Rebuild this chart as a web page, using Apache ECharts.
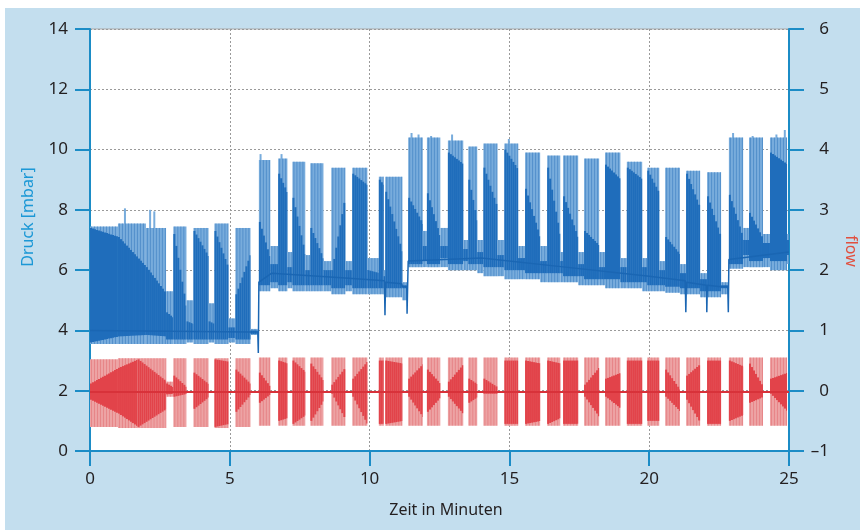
<!DOCTYPE html>
<html>
<head>
<meta charset="utf-8">
<script src="https://cdn.jsdelivr.net/npm/echarts@6/dist/echarts.min.js"></script>
<style>
  html, body { margin: 0; padding: 0; background: #ffffff; }
  #frame { position: absolute; left: 5px; top: 8px; width: 855px; height: 522px; background: #c3deee; }
  #chart { position: absolute; left: 0; top: 0; width: 860px; height: 530px; }
</style>
</head>
<body>
<div id="frame"></div>
<div id="chart"></div>
<script>
// ---- axis ticks ----
const xTicks = [0, 5, 10, 15, 20, 25];
const pressureTicks = [0, 2, 4, 6, 8, 10, 12, 14];
const flowTicks = [-1, 0, 1, 2, 3, 4, 5, 6];

// ---- pressure (mbar): [t0, t1, lightLow, lightHigh, darkLow0, darkHigh0, darkLow1, darkHigh1] ----
const pressureSegments = [
  [0.00, 1.00, 3.55, 7.45, 3.60, 7.40, 3.80, 7.10],
  [1.00, 2.00, 3.55, 7.55, 3.80, 7.10, 3.85, 6.10],
  [2.00, 2.72, 3.55, 7.40, 3.85, 6.10, 3.80, 5.20],
  [2.72, 2.98, 3.55, 5.30, 3.70, 4.60, 3.70, 4.40],
  [2.98, 3.45, 3.55, 7.45, 3.70, 7.20, 3.70, 4.60],
  [3.45, 3.70, 3.60, 5.00, 3.70, 4.30, 3.70, 4.20],
  [3.70, 4.24, 3.55, 7.40, 3.70, 7.30, 3.70, 6.40],
  [4.24, 4.45, 3.60, 4.90, 3.70, 4.30, 3.70, 4.20],
  [4.45, 4.95, 3.55, 7.55, 3.70, 7.30, 3.70, 6.00],
  [4.95, 5.20, 3.60, 4.40, 3.75, 4.10, 3.75, 4.10],
  [5.20, 5.74, 3.55, 7.40, 3.70, 5.20, 3.70, 6.60],
  [5.74, 6.00, 3.85, 4.05, 3.88, 4.00, 3.88, 4.00],
  [6.04, 6.45, 5.30, 9.65, 5.50, 7.60, 5.50, 6.30],
  [6.45, 6.73, 5.40, 6.80, 5.60, 6.20, 5.60, 6.20],
  [6.73, 7.06, 5.30, 9.70, 5.50, 9.20, 5.50, 8.50],
  [7.06, 7.24, 5.40, 6.60, 5.60, 6.10, 5.60, 6.10],
  [7.24, 7.70, 5.30, 9.60, 5.50, 8.40, 5.50, 6.40],
  [7.70, 7.88, 5.30, 6.50, 5.50, 6.00, 5.50, 6.00],
  [7.88, 8.35, 5.30, 9.55, 5.50, 7.40, 5.50, 6.30],
  [8.35, 8.63, 5.30, 6.30, 5.50, 6.00, 5.50, 6.00],
  [8.63, 9.13, 5.20, 9.40, 5.40, 6.00, 5.40, 8.60],
  [9.13, 9.38, 5.30, 6.30, 5.50, 6.00, 5.50, 6.00],
  [9.38, 9.92, 5.20, 9.40, 5.40, 9.20, 5.40, 8.80],
  [9.92, 10.33, 5.20, 6.40, 5.40, 6.00, 5.40, 5.90],
  [10.33, 10.50, 5.20, 9.10, 5.40, 9.00, 5.40, 8.80],
  [10.50, 10.56, 5.20, 6.00, 5.40, 5.80, 5.40, 5.80],
  [10.56, 11.17, 5.10, 9.10, 5.40, 8.60, 5.40, 6.50],
  [11.17, 11.36, 5.00, 5.60, 5.40, 5.50, 5.40, 5.50],
  [11.38, 11.90, 6.10, 10.40, 6.20, 8.40, 6.20, 7.50],
  [11.90, 12.05, 6.10, 7.30, 6.30, 6.80, 6.30, 6.80],
  [12.05, 12.53, 6.10, 10.40, 6.20, 8.55, 6.20, 7.00],
  [12.53, 12.80, 6.10, 7.40, 6.40, 6.80, 6.40, 6.80],
  [12.80, 13.35, 6.00, 10.30, 6.20, 9.90, 6.20, 9.50],
  [13.35, 13.53, 6.00, 7.00, 6.30, 6.70, 6.30, 6.70],
  [13.53, 13.85, 6.00, 10.10, 6.20, 9.00, 6.20, 7.50],
  [13.85, 14.07, 5.90, 7.00, 6.20, 6.60, 6.20, 6.60],
  [14.07, 14.57, 5.80, 10.20, 6.10, 9.40, 6.10, 8.00],
  [14.57, 14.82, 5.80, 7.00, 6.10, 6.50, 6.10, 6.50],
  [14.82, 15.31, 5.70, 10.20, 6.00, 10.00, 6.00, 9.30],
  [15.31, 15.56, 5.70, 6.80, 6.00, 6.40, 6.00, 6.40],
  [15.56, 16.10, 5.70, 9.90, 5.90, 8.70, 5.90, 7.00],
  [16.10, 16.35, 5.60, 6.80, 5.90, 6.30, 5.90, 6.30],
  [16.35, 16.82, 5.60, 9.80, 5.90, 9.40, 5.90, 7.00],
  [16.82, 16.92, 5.60, 6.60, 5.90, 6.30, 5.90, 6.30],
  [16.92, 17.46, 5.60, 9.80, 5.80, 8.45, 5.80, 7.00],
  [17.46, 17.67, 5.50, 6.60, 5.80, 6.20, 5.80, 6.20],
  [17.67, 18.21, 5.50, 9.70, 5.70, 7.30, 5.70, 6.80],
  [18.21, 18.42, 5.50, 6.60, 5.70, 6.10, 5.70, 6.10],
  [18.42, 18.97, 5.40, 9.90, 5.70, 9.50, 5.70, 9.00],
  [18.97, 19.20, 5.40, 6.40, 5.60, 6.10, 5.60, 6.10],
  [19.20, 19.75, 5.40, 9.60, 5.60, 9.40, 5.60, 9.00],
  [19.75, 19.93, 5.30, 6.40, 5.60, 6.10, 5.60, 6.10],
  [19.93, 20.36, 5.30, 9.40, 5.50, 9.30, 5.50, 8.50],
  [20.36, 20.57, 5.30, 6.30, 5.50, 6.00, 5.50, 6.00],
  [20.57, 21.10, 5.25, 9.40, 5.45, 7.10, 5.45, 6.50],
  [21.10, 21.32, 5.20, 6.20, 5.40, 5.90, 5.40, 5.90],
  [21.32, 21.82, 5.20, 9.30, 5.40, 9.20, 5.40, 8.00],
  [21.82, 22.07, 5.10, 5.90, 5.30, 5.70, 5.30, 5.70],
  [22.07, 22.57, 5.10, 9.25, 5.30, 8.45, 5.30, 7.00],
  [22.57, 22.82, 5.20, 5.60, 5.40, 5.50, 5.40, 5.50],
  [22.85, 23.36, 6.05, 10.40, 6.20, 8.50, 6.20, 7.00],
  [23.36, 23.57, 6.10, 7.40, 6.50, 7.00, 6.50, 7.00],
  [23.57, 24.07, 6.10, 10.40, 6.30, 7.90, 6.30, 7.00],
  [24.07, 24.32, 6.10, 7.20, 6.40, 6.90, 6.40, 6.90],
  [24.32, 24.93, 6.00, 10.40, 6.30, 9.90, 6.30, 9.50],
  [24.93, 25.00, 6.20, 7.20, 6.50, 7.00, 6.50, 7.00]
];

// individual tallest breaths [t, peak mbar]
const pressureSpikes = [
  [1.25, 8.05], [2.15, 8.0], [2.3, 7.95], [6.1, 9.85], [6.85, 9.85],
  [11.5, 10.55], [11.75, 10.5], [12.2, 10.45], [12.95, 10.5], [14.98, 10.35],
  [23.0, 10.55], [23.7, 10.45], [24.55, 10.5], [24.85, 10.65]
];

// baseline between breathing bursts [t, mbar]
const pressureBaseline = [
  [0, 4.0], [5.74, 3.95], [6.00, 3.95], [6.02, 3.25], [6.04, 5.6], [6.5, 5.9],
  [9.0, 5.75], [10.53, 5.65], [10.55, 4.5], [10.57, 5.6], [11.15, 5.55], [11.17, 5.45],
  [11.33, 5.45], [11.34, 4.55], [11.36, 5.45], [11.38, 6.3], [14, 6.4], [17, 6.1],
  [20, 5.8], [21.29, 5.65], [21.31, 4.6], [21.33, 5.6], [22.05, 5.5], [22.06, 4.6],
  [22.08, 5.5], [22.57, 5.45], [22.81, 5.45], [22.83, 4.6], [22.85, 6.35], [25, 6.6]
];

// ---- flow: [t0, t1, lightLow, lightHigh, darkLow0, darkHigh0, darkLow1, darkHigh1] ----
const flowSegments = [
  [0.00, 1.00, -0.60, 0.52, -0.15, 0.12, -0.38, 0.38],
  [1.00, 1.70, -0.62, 0.54, -0.38, 0.38, -0.60, 0.52],
  [1.70, 2.72, -0.62, 0.54, -0.60, 0.52, -0.30, 0.15],
  [2.72, 2.98, -0.10, 0.15, -0.06, 0.12, -0.05, 0.05],
  [2.98, 3.45, -0.60, 0.54, -0.10, 0.25, -0.05, 0.05],
  [3.70, 4.24, -0.60, 0.54, -0.30, 0.30, -0.10, 0.10],
  [4.45, 4.95, -0.62, 0.54, -0.60, 0.52, -0.55, 0.48],
  [5.20, 5.74, -0.60, 0.54, -0.35, 0.35, -0.05, 0.10],
  [6.04, 6.45, -0.58, 0.55, -0.20, 0.30, -0.05, 0.05],
  [6.73, 7.06, -0.58, 0.55, -0.50, 0.50, -0.45, 0.45],
  [7.24, 7.70, -0.58, 0.55, -0.55, 0.50, -0.40, 0.30],
  [7.88, 8.35, -0.58, 0.55, -0.50, 0.45, -0.15, 0.15],
  [8.63, 9.13, -0.58, 0.55, -0.05, 0.10, -0.50, 0.40],
  [9.38, 9.92, -0.58, 0.55, -0.10, 0.20, -0.58, 0.50],
  [10.33, 10.50, -0.58, 0.55, -0.55, 0.50, -0.55, 0.50],
  [10.56, 11.17, -0.58, 0.55, -0.55, 0.50, -0.50, 0.45],
  [11.38, 11.90, -0.58, 0.55, -0.10, 0.20, -0.45, 0.45],
  [12.05, 12.53, -0.58, 0.55, -0.35, 0.35, -0.10, 0.10],
  [12.80, 13.35, -0.58, 0.55, -0.10, 0.15, -0.40, 0.45],
  [13.53, 13.85, -0.58, 0.55, -0.20, 0.20, -0.10, 0.10],
  [14.07, 14.57, -0.58, 0.55, -0.05, 0.20, -0.05, 0.05],
  [14.82, 15.31, -0.58, 0.55, -0.55, 0.50, -0.55, 0.50],
  [15.56, 16.10, -0.58, 0.55, -0.55, 0.50, -0.50, 0.45],
  [16.35, 16.82, -0.58, 0.55, -0.55, 0.50, -0.45, 0.45],
  [16.92, 17.46, -0.58, 0.55, -0.55, 0.50, -0.55, 0.50],
  [17.67, 18.21, -0.58, 0.55, -0.10, 0.10, -0.45, 0.40],
  [18.42, 18.97, -0.58, 0.55, -0.10, 0.20, -0.30, 0.30],
  [19.20, 19.75, -0.58, 0.55, -0.55, 0.50, -0.55, 0.50],
  [19.93, 20.36, -0.58, 0.55, -0.50, 0.50, -0.50, 0.50],
  [20.57, 21.10, -0.58, 0.55, -0.10, 0.35, -0.35, 0.00],
  [21.32, 21.82, -0.58, 0.55, -0.15, 0.25, -0.55, 0.45],
  [22.07, 22.57, -0.58, 0.55, -0.55, 0.50, -0.55, 0.50],
  [22.85, 23.36, -0.58, 0.55, -0.50, 0.50, -0.40, 0.40],
  [23.57, 24.07, -0.58, 0.55, -0.20, 0.45, -0.10, 0.05],
  [24.32, 24.93, -0.58, 0.55, -0.05, 0.20, -0.35, 0.30]
];
const flowBaseline = [[0, -0.02], [25, -0.02]];

// ---- styling ----
const AX = '#1b8cc6';
const TXT = '#231f20';
const FONT = 'Noto Sans';
const PRESS_LIGHT = '#78acdc';
const PRESS_STRIPE = 'rgba(40,110,185,0.45)';
const PRESS_DARK = '#1f6dbb';
const FLOW_LIGHT = '#eda3a4';
const FLOW_STRIPE = 'rgba(220,80,85,0.35)';
const FLOW_DARK = '#e2434a';

// draws one segment: light envelope with thin breath-like stripes, plus the darker core
function segRenderer(light, stripe, dark) {
  return function (params, api) {
    const t0 = api.value(0), t1 = api.value(1);
    const a = api.coord([t0, api.value(3)]);
    const b = api.coord([t1, api.value(2)]);
    const d0lo = api.coord([t0, api.value(4)]), d0hi = api.coord([t0, api.value(5)]);
    const d1lo = api.coord([t1, api.value(6)]), d1hi = api.coord([t1, api.value(7)]);
    const children = [
      { type: 'rect', shape: { x: a[0], y: a[1], width: b[0] - a[0], height: b[1] - a[1] }, style: { fill: light } }
    ];
    for (let x = a[0] + 1.5; x < b[0]; x += 3) {
      children.push({ type: 'line', shape: { x1: x, y1: a[1], x2: x, y2: b[1] }, style: { stroke: stripe, lineWidth: 1 } });
    }
    const w = b[0] - a[0];
    // darker core as narrow vertical bars
    for (let x = a[0]; x < b[0]; x += 2) {
      const f = w > 0 ? (x - a[0]) / w : 0;
      const yHi = d0hi[1] + (d1hi[1] - d0hi[1]) * f;
      const yLo = d0lo[1] + (d1lo[1] - d0lo[1]) * f;
      children.push({ type: 'rect', shape: { x: x, y: yHi, width: Math.min(2, b[0] - x), height: yLo - yHi }, style: { fill: dark } });
    }
    return { type: 'group', children: children };
  };
}

function spikeRenderer(params, api) {
  const t = api.value(0);
  const top = api.coord([t, api.value(1)]);
  const bot = api.coord([t, api.value(1) - 1.2]);
  return { type: 'line', shape: { x1: top[0], y1: top[1], x2: bot[0], y2: bot[1] }, style: { stroke: PRESS_LIGHT, lineWidth: 2 } };
}

const dash = (v) => String(v).replace('-', '\u2013');

const chart = echarts.init(document.getElementById('chart'), null, { renderer: 'canvas' });
chart.setOption({
  backgroundColor: 'transparent',
  animation: false,
  textStyle: { fontFamily: FONT },
  grid: { left: 90, right: 71, top: 29, bottom: 79, show: true, backgroundColor: '#ffffff', borderColor: '#a9a9a9', borderWidth: 1 },
  xAxis: {
    type: 'value', min: xTicks[0], max: xTicks[xTicks.length - 1], interval: 5,
    axisLine: { lineStyle: { color: AX, width: 2 } },
    axisTick: { show: true, inside: false, length: 15, lineStyle: { color: AX, width: 2 } },
    axisLabel: { color: TXT, fontSize: 17, margin: 20, fontFamily: FONT },
    splitLine: { show: true, lineStyle: { color: '#9a9a9a', type: [2, 2], width: 1 } }
  },
  yAxis: [
    {
      type: 'value', position: 'left', min: pressureTicks[0], max: pressureTicks[pressureTicks.length - 1], interval: 2,
      axisLine: { show: true, lineStyle: { color: AX, width: 2 } },
      axisTick: { show: true, inside: false, length: 15, lineStyle: { color: AX, width: 2 } },
      axisLabel: { color: TXT, fontSize: 17, margin: 22, fontFamily: FONT },
      splitLine: { show: true, lineStyle: { color: '#9a9a9a', type: [2, 2], width: 1 } }
    },
    {
      type: 'value', position: 'right', min: flowTicks[0], max: flowTicks[flowTicks.length - 1], interval: 1,
      axisLine: { show: true, lineStyle: { color: AX, width: 2 } },
      axisTick: { show: true, inside: false, length: 15, lineStyle: { color: AX, width: 2 } },
      axisLabel: { color: TXT, fontSize: 17, margin: 40, align: 'right', fontFamily: FONT, formatter: dash },
      splitLine: { show: false }
    }
  ],
  graphic: [
    { type: 'text', x: 28, y: 217, rotation: Math.PI / 2, style: { text: 'Druck [mbar]', fill: '#1c98d6', fontSize: 16, fontFamily: FONT, align: 'center', verticalAlign: 'middle' } },
    { type: 'text', x: 851, y: 251, rotation: -Math.PI / 2, style: { text: 'flow', fill: '#e1503f', fontSize: 16, fontFamily: FONT, align: 'center', verticalAlign: 'middle' } },
    { type: 'text', x: 446, y: 510, style: { text: 'Zeit in Minuten', fill: TXT, fontSize: 16, fontFamily: FONT, align: 'center', verticalAlign: 'middle' } }
  ],
  series: [
    {
      type: 'custom', name: 'flow', yAxisIndex: 1, clip: true,
      renderItem: segRenderer(FLOW_LIGHT, FLOW_STRIPE, FLOW_DARK),
      encode: { x: [0, 1], y: [2, 3, 4, 5, 6, 7] },
      data: flowSegments, z: 2
    },
    {
      type: 'line', yAxisIndex: 1, data: flowBaseline, symbol: 'none',
      lineStyle: { color: '#d8323a', width: 2 }, z: 3
    },
    {
      type: 'custom', name: 'Druck', yAxisIndex: 0, clip: true,
      renderItem: spikeRenderer, encode: { x: 0, y: 1 },
      data: pressureSpikes, z: 2
    },
    {
      type: 'custom', name: 'Druck', yAxisIndex: 0, clip: true,
      renderItem: segRenderer(PRESS_LIGHT, PRESS_STRIPE, PRESS_DARK),
      encode: { x: [0, 1], y: [2, 3, 4, 5, 6, 7] },
      data: pressureSegments, z: 3
    },
    {
      type: 'line', yAxisIndex: 0, data: pressureBaseline, symbol: 'none',
      lineStyle: { color: '#1a66b3', width: 1.5 }, z: 4
    }
  ]
});
</script>
</body>
</html>
